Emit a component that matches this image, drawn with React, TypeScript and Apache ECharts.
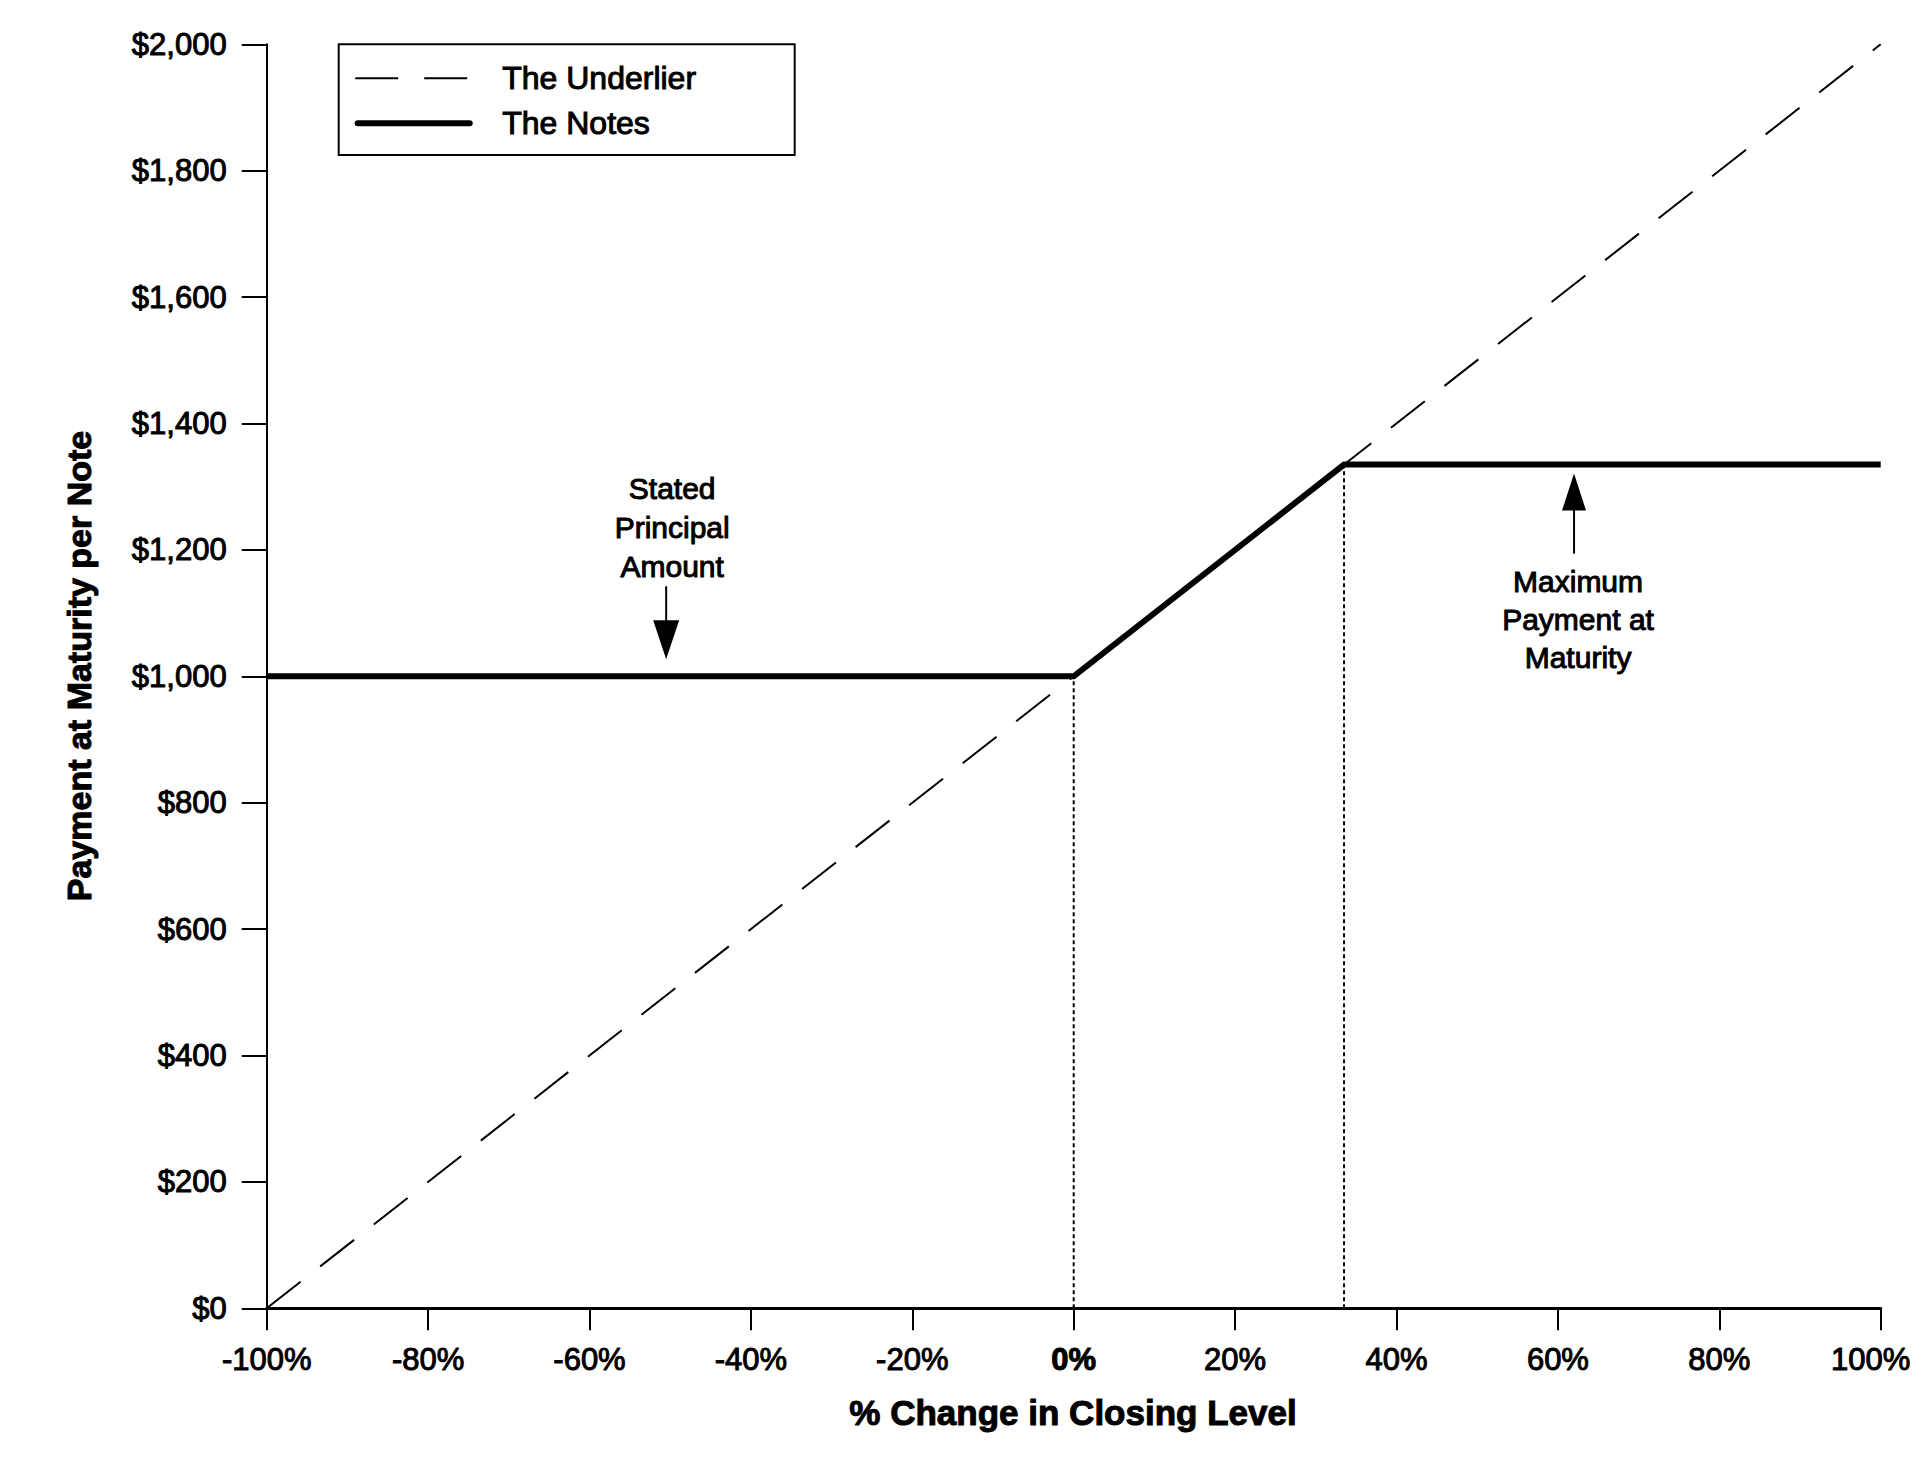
import React, { useEffect, useRef } from "react";
import * as echarts from "echarts";

// ---- data ----
const seriesNames = ["The Underlier", "The Notes"];
const underlierX = [-100, 100];
const underlierY = [0, 2000];
const notesX = [-100, 0, 33.5, 100];
const notesY = [1000, 1000, 1335, 1335];
const guideX = [0, 33.5];
const guideY = [1000, 1335];
const xMin = -100;
const xMax = 100;
const xStep = 20;
const yMin = 0;
const yMax = 2000;
const yStep = 200;
const statedText = ["Stated", "Principal", "Amount"];
const statedAnchor = [-50.5, 1000];
const maxText = ["Maximum", "Payment at", "Maturity"];
const maxAnchor = [62, 1335];
const xTitle = "% Change in Closing Level";
const yTitle = "Payment at Maturity per Note";

const FONT = "'Liberation Sans', Arial, Helvetica, sans-serif";

export default function App() {
  const ref = useRef<HTMLDivElement>(null);

  useEffect(() => {
    const chart = echarts.init(ref.current!, null, { renderer: "svg" });

    const thick = { textBorderColor: "#000", textBorderWidth: 1 };

    const option: any = {
      animation: false,
      backgroundColor: "#fff",
      grid: {
        left: 266.7,
        right: 34.3,
        top: 44.3,
        bottom: 149.7,
        containLabel: false,
        outerBoundsMode: "none",
      },
      xAxis: {
        type: "value",
        min: xMin,
        max: xMax,
        interval: xStep,
        axisLine: { show: true, onZero: false, lineStyle: { color: "#000", width: 3 } },
        axisTick: { show: true, inside: false, length: 22, lineStyle: { color: "#000", width: 2 } },
        splitLine: { show: false },
        axisLabel: {
          margin: 36,
          fontSize: 31,
          fontFamily: FONT,
          color: "#000",
          ...thick,
          formatter: (v: number) =>
            v === 0 ? "{b|0%}" : v === xMax ? `{r|${v}%}` : `${v}%`,
          rich: {
            b: {
              fontSize: 31,
              fontFamily: FONT,
              fontWeight: "bold",
              color: "#000",
              ...thick,
            },
            r: {
              fontSize: 31,
              fontFamily: FONT,
              color: "#000",
              padding: [0, 20, 0, 0],
              ...thick,
            },
          },
        },
      },
      yAxis: {
        type: "value",
        min: yMin,
        max: yMax,
        interval: yStep,
        axisLine: { show: true, onZero: false, lineStyle: { color: "#000", width: 2 } },
        axisTick: { show: true, inside: false, length: 25, lineStyle: { color: "#000", width: 2 } },
        splitLine: { show: false },
        axisLabel: {
          margin: 40,
          fontSize: 31,
          fontFamily: FONT,
          color: "#000",
          ...thick,
          formatter: (v: number) => "$" + v.toLocaleString("en-US"),
        },
      },
      series: [
        {
          name: seriesNames[0],
          type: "line",
          data: underlierX.map((x, i) => [x, underlierY[i]]),
          showSymbol: false,
          symbol: "none",
          z: 2,
          silent: true,
          itemStyle: { color: "#000" },
          lineStyle: { color: "#000", width: 2, type: [43, 25] },
        },
        {
          name: seriesNames[1],
          type: "line",
          data: notesX.map((x, i) => [x, notesY[i]]),
          showSymbol: false,
          symbol: "none",
          z: 4,
          silent: true,
          itemStyle: { color: "#000" },
          lineStyle: { color: "#000", width: 6, join: "miter", cap: "butt" },
        },
        ...guideX.map((gx, i) => ({
          name: "guide" + i,
          type: "line",
          data: [
            [gx, yMin],
            [gx, guideY[i]],
          ],
          showSymbol: false,
          symbol: "none",
          z: 1,
          silent: true,
          itemStyle: { color: "#000" },
          lineStyle: { color: "#000", width: 2, type: [4, 3] },
        })),
      ],
    };

    chart.setOption(option);

    const textStyle = (
      text: string,
      size: number,
      weight: string,
      align: string = "center"
    ) => ({
      text,
      fill: "#000",
      fontSize: size,
      fontFamily: FONT,
      fontWeight: weight,
      align,
      verticalAlign: "middle",
      textAlign: align,
      textVerticalAlign: "middle",
      stroke: "#000",
      lineWidth: 1,
    });

    const [sx, sy] = chart.convertToPixel({ gridIndex: 0 }, statedAnchor) as number[];
    const [mx, my] = chart.convertToPixel({ gridIndex: 0 }, maxAnchor) as number[];

    const graphics: any[] = [];

    // Legend
    const lgX = 338.7;
    const lgY = 44.3;
    graphics.push({
      type: "rect",
      shape: { x: lgX, y: lgY, width: 456, height: 110.7 },
      style: { fill: "#fff", stroke: "#000", lineWidth: 2 },
      z: 10,
    });
    graphics.push({
      type: "line",
      shape: { x1: lgX + 16.5, y1: lgY + 34, x2: lgX + 128.5, y2: lgY + 34 },
      style: { stroke: "#000", lineWidth: 2, lineDash: [43, 26] },
      z: 11,
    });
    graphics.push({
      type: "line",
      shape: { x1: lgX + 19, y1: lgY + 79, x2: lgX + 131, y2: lgY + 79 },
      style: { stroke: "#000", lineWidth: 6, lineCap: "round" },
      z: 11,
    });
    seriesNames.forEach((n, i) => {
      graphics.push({
        type: "text",
        x: lgX + 163.5,
        y: lgY + 34 + i * 45,
        z: 11,
        style: textStyle(n, 32, "normal", "left"),
      });
    });

    // Stated principal annotation
    statedText.forEach((t, i) => {
      graphics.push({
        type: "text",
        x: sx + 6,
        y: sy - 188 + i * 39,
        style: textStyle(t, 30, "normal"),
      });
    });
    graphics.push({
      type: "line",
      shape: { x1: sx, y1: sy - 90, x2: sx, y2: sy - 54 },
      style: { stroke: "#000", lineWidth: 2 },
    });
    graphics.push({
      type: "polygon",
      shape: {
        points: [
          [sx - 13, sy - 56],
          [sx + 13, sy - 56],
          [sx, sy - 17],
        ],
      },
      style: { fill: "#000" },
    });

    // Maximum payment annotation
    maxText.forEach((t, i) => {
      graphics.push({
        type: "text",
        x: mx + 4,
        y: my + 117 + i * 38,
        style: textStyle(t, 30, "normal"),
      });
    });
    graphics.push({
      type: "line",
      shape: { x1: mx, y1: my + 44, x2: mx, y2: my + 89 },
      style: { stroke: "#000", lineWidth: 2 },
    });
    graphics.push({
      type: "polygon",
      shape: {
        points: [
          [mx - 12, my + 46],
          [mx + 12, my + 46],
          [mx, my + 9],
        ],
      },
      style: { fill: "#000" },
    });

    // Axis titles
    graphics.push({
      type: "text",
      x: 1073,
      y: 1412,
      style: textStyle(xTitle, 35, "bold"),
    });
    graphics.push({
      type: "text",
      x: 79,
      y: 666,
      rotation: Math.PI / 2,
      style: textStyle(yTitle, 34, "bold"),
    });

    chart.setOption({ graphic: graphics });

    return () => chart.dispose();
  }, []);

  return (
    <div
      ref={ref}
      style={{
        position: "fixed",
        left: 0,
        top: 0,
        width: 1915,
        height: 1458,
        background: "#fff",
      }}
    />
  );
}
